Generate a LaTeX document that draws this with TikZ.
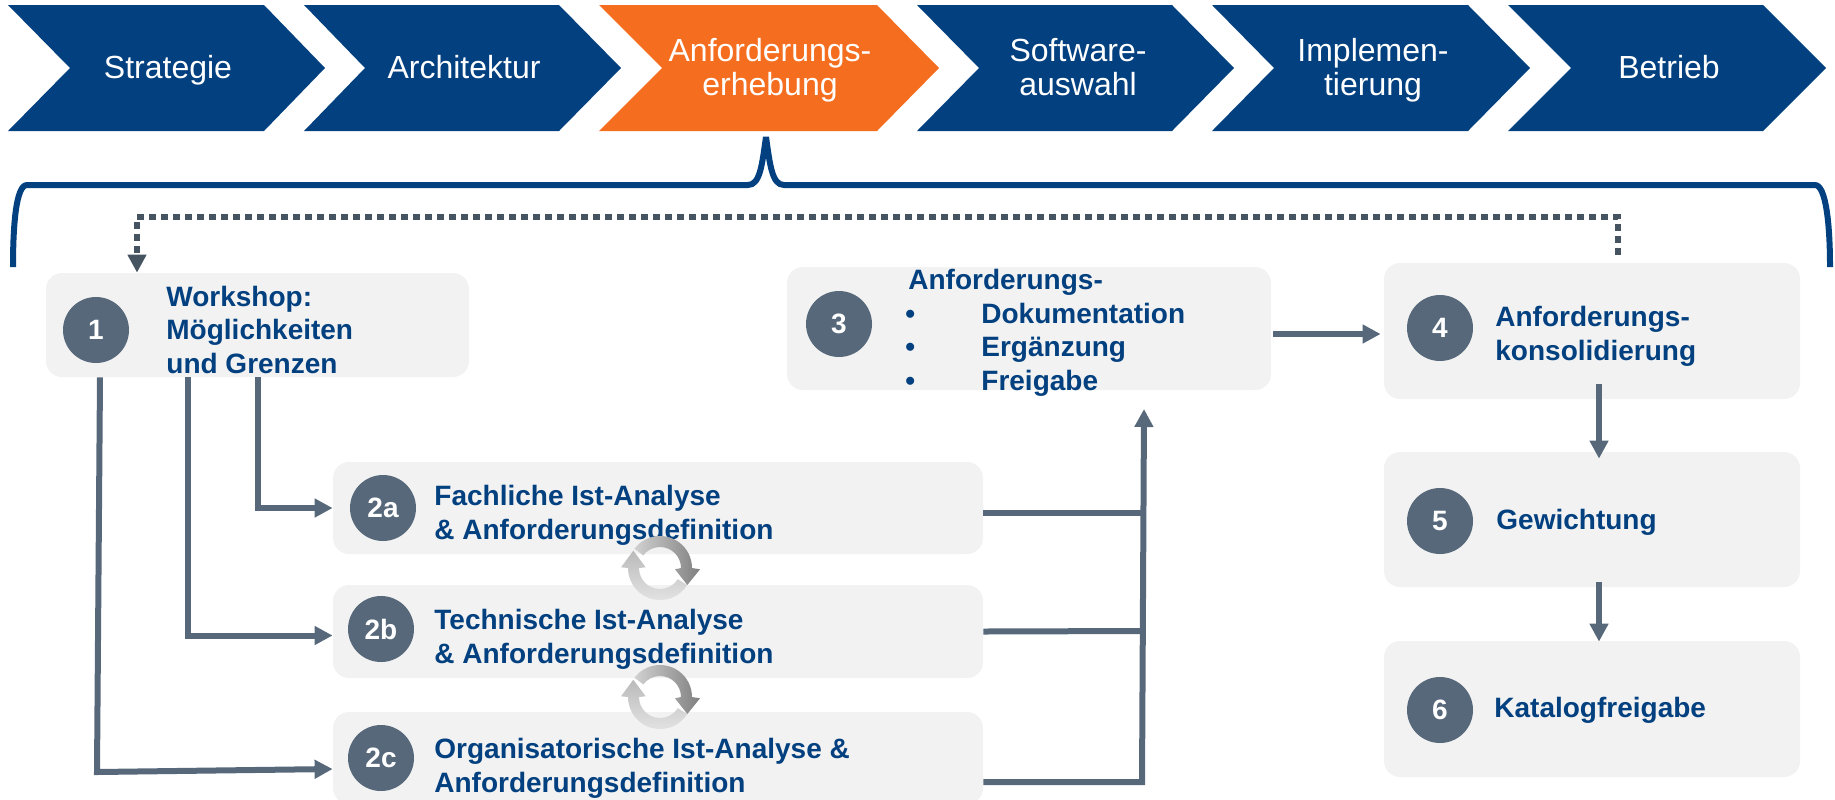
\documentclass[tikz,border=0pt]{standalone}
\usepackage{fontspec}
\setmainfont{Liberation Sans}
\usetikzlibrary{arrows.meta}
\definecolor{prozessblau}{HTML}{03407F}
\definecolor{prozessorange}{HTML}{F56D1E}
\definecolor{boxgrau}{HTML}{F2F2F2}
\definecolor{schiefer}{HTML}{56687A}
\definecolor{schieferdunkel}{HTML}{465462}
\tikzset{
	chevrontext/.style={anchor=base,inner sep=0pt,align=center,text=white,font=\fontsize{16}{17}\selectfont},
	stufe/.style={fill=boxgrau,rounded corners=8pt,inner sep=0pt},
	stufentext/.style={anchor=base west,inner sep=0pt,align=left,text=prozessblau,font=\bfseries\fontsize{14}{16.75}\selectfont},
	marke/.style={circle,fill=schiefer,minimum size=33pt,inner sep=0pt,text=white,font=\bfseries\fontsize{14}{16}\selectfont},
	verbinder/.style={draw=schiefer,line width=3pt,-{Triangle[length=9pt,width=9pt]}},
	sammler/.style={draw=schiefer,line width=3pt},
	klammer/.style={draw=prozessblau,line width=3pt,line join=bevel},
	punktiert/.style={draw=schieferdunkel,line width=3pt,dash pattern=on 3.3pt off 2.7pt,-{Triangle[length=9pt,width=9pt]}},
	kreislauf/.pic={
		\shade[left color=black!18,right color=black!50] (-143:21) -- (-143:32) arc[start angle=-143,end angle=0,radius=32] -- (40,1.3) -- (27.3,17) -- (15,1.3) -- (21,0) arc[start angle=0,end angle=-143,radius=21] -- cycle;
		\shade[top color=black!27,bottom color=black!10] (32:21) -- (32:32) arc[start angle=32,end angle=180,radius=32] -- (-39,-0.7) -- (-26.7,-17.3) -- (-14.3,-0.7) -- (-21,0) arc[start angle=180,end angle=32,radius=21] -- cycle;
	}
}
\begin{document}
\begin{tikzpicture}[x=0.5pt,y=-0.5pt]
	\clip (0,0) rectangle (1835,799);
	\fill [prozessblau] (8,5) -- (264,5) -- (325,68) -- (264,131) -- (8,131) -- (70,68) -- cycle;
	\fill [prozessblau] (304,5) -- (559,5) -- (621,68) -- (559,131) -- (304,131) -- (365,68) -- cycle;
	\fill [prozessorange] (599,5) -- (877,5) -- (939,68) -- (877,131) -- (599,131) -- (662,68) -- cycle;
	\fill [prozessblau] (917,5) -- (1172,5) -- (1234,68) -- (1172,131) -- (917,131) -- (979,68) -- cycle;
	\fill [prozessblau] (1212,5) -- (1468,5) -- (1530,68) -- (1468,131) -- (1212,131) -- (1274,68) -- cycle;
	\fill [prozessblau] (1508,5) -- (1763,5) -- (1826,68) -- (1763,131) -- (1508,131) -- (1571,68) -- cycle;
	\node [chevrontext] (strategie) at (168,78) {Strategie};
	\node [chevrontext] (architektur) at (464,78) {Architektur};
	\node [chevrontext] (erhebung) at (770,95) {Anforderungs-\\erhebung};
	\node [chevrontext] (auswahl) at (1078,95) {Software-\\auswahl};
	\node [chevrontext] (implementierung) at (1373,95) {Implemen-\\tierung};
	\node [chevrontext] (betrieb) at (1669,78) {Betrieb};

	\draw [klammer] (13,267) .. controls (13,225) and (16,185) .. (27,185) -- (748,185) .. controls (760,185) and (762,165) .. (766,137) .. controls (770,165) and (772,185) .. (784,185) -- (1815,185) .. controls (1826,185) and (1830,225) .. (1830,267);

	\node [stufe,minimum width=211.5pt,minimum height=52pt] (box1) at (257.5,325) {};
	\node [stufe,minimum width=242pt,minimum height=61.5pt] (box3) at (1029,328.5) {};
	\node [stufe,minimum width=208pt,minimum height=68pt] (box4) at (1592,331) {};
	\node [stufe,minimum width=208pt,minimum height=67.5pt] (box5) at (1592,519.5) {};
	\node [stufe,minimum width=208pt,minimum height=68pt] (box6) at (1592,709) {};
	\node [stufe,minimum width=325pt,minimum height=46pt] (box2a) at (658,508) {};
	\node [stufe,minimum width=325pt,minimum height=46.5pt] (box2b) at (658,631.5) {};
	\node [stufe,minimum width=325pt,minimum height=46pt] (box2c) at (658,758) {};

	\node [marke] (marke1) at (96,330) {1};
	\node [marke] (marke3) at (839,324) {3};
	\node [marke] (marke4) at (1440,328) {4};
	\node [marke] (marke5) at (1440,521) {5};
	\node [marke] (marke6) at (1440,710) {6};
	\node [marke] (marke2a) at (383,508) {2a};
	\node [marke] (marke2b) at (381,629) {2b};
	\node [marke] (marke2c) at (381,758) {2c};

	\node [stufentext] (text1) at (166,373) {Workshop:\\Möglichkeiten\\und Grenzen};
	\node [stufentext] (text3) at (908,390) {Anforderungs-\\\makebox[36.5pt][l]{\hspace*{-1.5pt}•}Dokumentation\\\makebox[36.5pt][l]{\hspace*{-1.5pt}•}Ergänzung\\\makebox[36.5pt][l]{\hspace*{-1.5pt}•}Freigabe};
	\node [stufentext] (text4) at (1495,360) {Anforderungs-\\konsolidierung};
	\node [stufentext] (text5) at (1496,529) {Gewichtung};
	\node [stufentext] (text6) at (1494,717) {Katalogfreigabe};
	\node [stufentext] (text2a) at (434,539) {Fachliche Ist-Analyse\\\& Anforderungsdefinition};
	\node [stufentext] (text2b) at (434,663) {Technische Ist-Analyse\\\& Anforderungsdefinition};
	\node [stufentext] (text2c) at (434,792) {Organisatorische Ist-Analyse \&\\Anforderungsdefinition};

	\coordinate (knick2c) at (97,772);
	\coordinate (sammel2a) at (1143,513);
	\coordinate (sammel2b) at (1143,631);
	\coordinate (sammelunten) at (1142,782);
	\coordinate (sammeloben) at (1144,409);
	\coordinate (ruecklaufrechts) at (1618,217);
	\coordinate (ruecklauflinks) at (137,217);

	\draw [verbinder] (box1.south) |- (box2a.west);
	\draw [verbinder] ([xshift=-35pt]box1.south) |- ([yshift=-2pt]box2b.west);
	\draw [verbinder] ([xshift=-78.75pt]box1.south) -- (knick2c) -- ([yshift=-5.5pt]box2c.west);
	\draw [sammler] ([yshift=-2.5pt]box2a.east) -- (sammel2a);
	\draw [sammler] (box2b.east) -- (sammel2b);
	\draw [verbinder] ([yshift=-12pt]box2c.east) -- (sammelunten) -- (sammeloben);
	\draw [verbinder] ([xshift=1pt,yshift=-2.75pt]box3.east) -- ([xshift=-1.5pt,yshift=-1.5pt]box4.west);
	\draw [verbinder] ([xshift=3.5pt,yshift=7.5pt]box4.south) -- ([xshift=3.5pt,yshift=-3.5pt]box5.north);
	\draw [verbinder] ([xshift=3.5pt,yshift=2.5pt]box5.south) -- ([xshift=3.5pt,yshift=-0.5pt]box6.north);
	\draw [punktiert] ([xshift=13pt,yshift=4pt]box4.north) -- (ruecklaufrechts) -- (ruecklauflinks) -- ([xshift=-60.25pt]box1.north);

	\pic at (660,568) {kreislauf};
	\pic at (660,697) {kreislauf};
\end{tikzpicture}
\end{document}
